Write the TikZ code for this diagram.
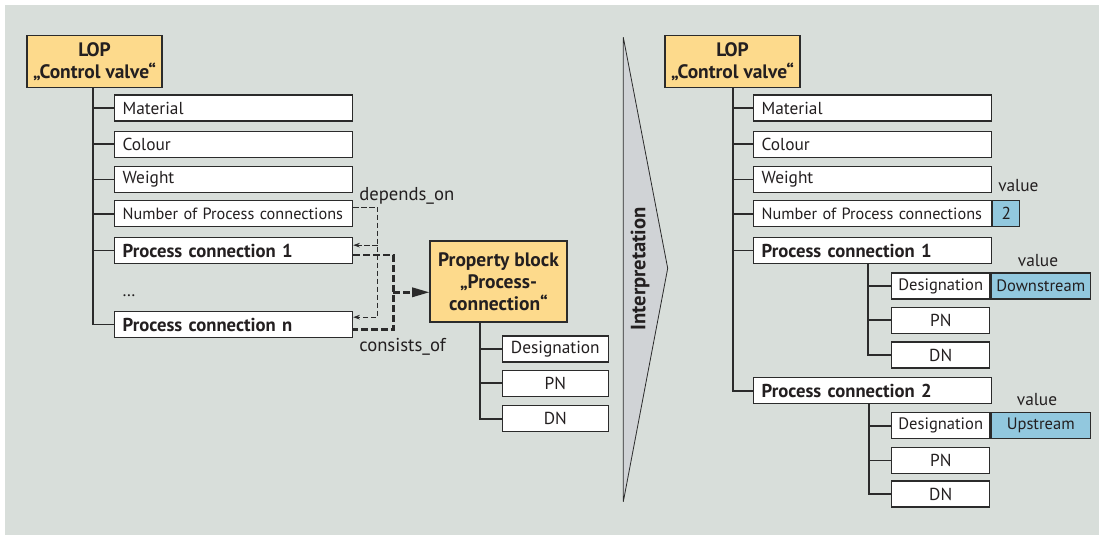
\documentclass[tikz,border=0pt]{standalone}
\usepackage{fontspec}
\setmainfont{PT Sans}
\usetikzlibrary{arrows.meta,calc}
\definecolor{bgc}{HTML}{D8DEDA}
\definecolor{headc}{HTML}{FDDA8C}
\definecolor{valc}{HTML}{92C8DE}
\definecolor{arrc}{HTML}{D0D3D6}
\definecolor{linec}{HTML}{2B2B2B}
\definecolor{txtc}{HTML}{231F20}
\newcommand\fsz{\fontsize{13}{16.5}\selectfont}
\newcommand\fss{\fontsize{12.2}{14}\selectfont}
\newcommand\fsb{\fontsize{14}{16.5}\selectfont}
\newcommand\fsh{\fontsize{14.6}{16.5}\selectfont}
\newcommand\fsr{\fontsize{12.4}{14}\selectfont}
\begin{document}
\begin{tikzpicture}[x=0.75pt,y=-0.75pt,
 every node/.style={text=txtc},
 bx/.style={draw=linec, fill=white, line width=0.9pt, minimum height=19.5pt, inner ysep=0pt, font=\fsz},
 prop/.style={bx, anchor=west, minimum width=178.5pt, text width=166.5pt, inner xsep=6pt, align=left},
 bprop/.style={prop, font=\fsb\bfseries},
 sub/.style={bx, anchor=west, minimum width=73.7pt, inner xsep=2pt, align=center},
 val/.style={bx, anchor=west, fill=valc, inner xsep=2pt},
 head/.style={draw=linec, fill=headc, line width=0.9pt, font=\fsh\bfseries, align=center, inner sep=0pt},
 tree/.style={draw=linec, line width=1.3pt},
 dep/.style={draw=linec, line width=0.7pt, dash pattern=on 4pt off 2pt},
 cons/.style={draw=linec, line width=1.8pt, dash pattern=on 5pt off 2.5pt},
 lbl/.style={font=\fsz, inner sep=0pt},
 rlbl/.style={font=\fsb, inner sep=0pt}
]
\useasboundingbox (0,0) rectangle (1099,535);
\fill[bgc] (5,5) rectangle (1099,535);

% ---------- left tree ----------
\node[head, minimum width=101.25pt, minimum height=38.7pt] (lopL) at (94.5,61.5) {LOP\\„Control valve“};
\node[prop] (matL) at (114,108) {Material};
\node[prop] (colL) at (114,144.2) {Colour};
\node[prop] (weiL) at (114,179.5) {Weight};
\node[prop, font=\fss] (npcL) at (114,213.8) {Number of Process connections};
\node[bprop] (pc1L) at (114,250.5) {Process connection 1};
\node[lbl, anchor=base west] (dotsL) at (122,296) {\ldots};
\node[bprop] (pcnL) at (114,324.5) {Process connection n};
\coordinate (tL) at (92.7,0);
\draw[tree] (lopL.south -| tL) |- (pcnL.west);
\foreach \n in {matL,colL,weiL,npcL,pc1L} \draw[tree] (tL |- \n.west) -- (\n.west);

% ---------- property block ----------
\node[head, minimum width=102.75pt, minimum height=60.75pt] (pb) at (498.5,281.5) {Property block\\„Process-\\connection“};
\node[sub, minimum width=79.5pt] (desP) at (501.7,349) {Designation};
\node[sub, minimum width=79.5pt] (pnP) at (501.7,383.3) {PN};
\node[sub, minimum width=79.5pt] (dnP) at (501.7,418.7) {DN};
\coordinate (tP) at (480,0);
\draw[tree] (pb.south -| tP) |- (dnP.west);
\foreach \n in {desP,pnP} \draw[tree] (tP |- \n.west) -- (\n.west);

% ---------- depends_on ----------
\coordinate (dx) at (377.7,0);
\coordinate (d0) at ($(npcL.east)+(0,5pt)$);
\coordinate (d1) at ($(pc1L.east)+(0,4pt)$);
\coordinate (d2) at ($(pcnL.east)+(0,5.5pt)$);
\draw[dep,-{Stealth[length=5pt,width=3.5pt]}] (d0) -| (dx |- d2) -- (d2);
\draw[dep,-{Stealth[length=5pt,width=3.5pt]}] (dx |- d1) -- (d1);
\node[rlbl, anchor=base west] (depL) at (359,200.5) {depends\_on};

% ---------- consists_of ----------
\coordinate (cx) at (393.3,0);
\coordinate (c1) at ($(pc1L.east)+(0,-3.4pt)$);
\coordinate (c2) at ($(pcnL.east)+(0,-3.6pt)$);
\coordinate (cm) at ($(pb.west)+(0,-8.1pt)$);
\draw[cons] (c1) -| (cx |- c2) -- (c2);
\draw[cons,-{Triangle[length=13pt,width=7pt]}] (cx |- cm) -- (cm);
\node[rlbl, anchor=base west] (conL) at (359,351.5) {consists\_of};

% ---------- interpretation arrow ----------
\draw[fill=arrc, draw=linec, line width=0.6pt] (623.3,37.3) -- (667.7,268.3) -- (623.3,501.7) -- cycle;
\node[font=\fontsize{15.5}{18}\selectfont\bfseries, rotate=90] (interp) at (640,269) {Interpretation};

% ---------- right tree ----------
\node[head, minimum width=101.25pt, minimum height=38.7pt] (lopR) at (732.5,61.5) {LOP\\„Control valve“};
\node[prop] (matR) at (753,108) {Material};
\node[prop] (colR) at (753,144.2) {Colour};
\node[prop] (weiR) at (753,179.5) {Weight};
\node[prop, font=\fss] (npcR) at (753,213.8) {Number of Process connections};
\node[bprop] (pc1R) at (753,250.5) {Process connection 1};
\node[bprop] (pc2R) at (753,390.7) {Process connection 2};
\coordinate (tR) at (732.7,0);
\draw[tree] (lopR.south -| tR) |- (pc2R.west);
\foreach \n in {matR,colR,weiR,npcR,pc1R} \draw[tree] (tR |- \n.west) -- (\n.west);
\node[val, minimum width=20.25pt] (v2) at (npcR.east) {2};
\node[lbl, anchor=base west] (valA) at (998,191.7) {value};

\node[sub, font=\fsr] (desA) at (891,286) {Designation};
\node[val, font=\fsr, minimum width=74.5pt] (vA) at (desA.east) {Downstream};
\node[sub] (pnA) at (891,320.2) {PN};
\node[sub] (dnA) at (891,355) {DN};
\node[lbl, anchor=base west] (valB) at (1017.7,266) {value};
\coordinate (tA) at (868.3,0);
\draw[tree] (pc1R.south -| tA) |- (dnA.west);
\foreach \n in {desA,pnA} \draw[tree] (tA |- \n.west) -- (\n.west);

\node[sub, font=\fsr] (desB) at (891,425.7) {Designation};
\node[val, font=\fsr, minimum width=74.5pt] (vB) at (desB.east) {Upstream};
\node[sub] (pnB) at (891,460.5) {PN};
\node[sub] (dnB) at (891,494) {DN};
\node[lbl, anchor=base west] (valC) at (1016.7,405) {value};
\coordinate (tB) at (869.3,0);
\draw[tree] (pc2R.south -| tB) |- (dnB.west);
\foreach \n in {desB,pnB} \draw[tree] (tB |- \n.west) -- (\n.west);
\end{tikzpicture}
\end{document}
